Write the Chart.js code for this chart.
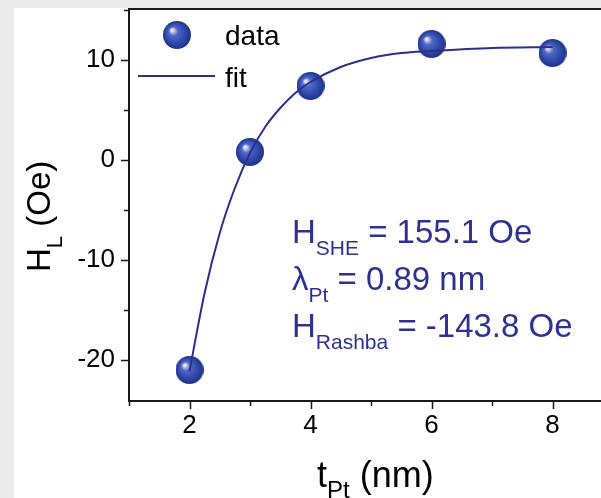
<!DOCTYPE html>
<html>
<head>
<meta charset="utf-8">
<script src="https://cdn.jsdelivr.net/npm/chart.js@4.4.1/dist/chart.umd.min.js"></script>
<style>
  html, body { margin: 0; padding: 0; background: #ebebeb; width: 601px; height: 498px; overflow: hidden; }
  #panel { position: absolute; left: 14px; top: 8px; width: 587px; height: 490px; background: #fff; overflow: hidden; }
  #chart { display: block; }
</style>
</head>
<body>
<div id="panel"><canvas id="chart" width="610" height="490"></canvas></div>
<script>
// measured points
const thickness = [2, 3, 4, 6, 8];
const fieldHL = [-21.0, 0.8, 7.4, 11.6, 10.7];

// fit curve
const fitThickness = [2, 2.25, 2.5, 2.75, 3, 3.25, 3.5, 3.75, 4, 4.5, 5, 5.5, 6, 7, 8];
const fitHL = [-21.1, -13.3, -7.3, -2.8, 0.7, 3.3, 5.2, 6.7, 7.8, 9.3, 10.2, 10.7, 10.9, 11.2, 11.3];

// axes
const xTicks = [1, 2, 3, 4, 5, 6, 7, 8, 9];
const xLabels = [2, 4, 6, 8];
const yTicks = [-20, -15, -10, -5, 0, 5, 10, 15];
const yLabels = [-20, -10, 0, 10];

const annotations = [
  { main: 'H', sub: 'SHE', rest: ' = 155.1 Oe' },
  { main: 'λ', sub: 'Pt', rest: ' = 0.89 nm' },
  { main: 'H', sub: 'Rashba', rest: ' = -143.8 Oe' }
];

const FONT = '"Liberation Sans", Arial, sans-serif';
const navy = '#2b2f8f';
const textBlue = '#2e3192';

// glossy sphere used as the point style
function makeSphere(r) {
  const c = document.createElement('canvas');
  c.width = c.height = r * 2;
  const g = c.getContext('2d');
  const grad = g.createRadialGradient(r * 0.62, r * 0.62, 0, r, r, r);
  grad.addColorStop(0, '#ffffff');
  grad.addColorStop(0.12, '#c9d1f0');
  grad.addColorStop(0.32, '#4f67c6');
  grad.addColorStop(0.75, '#2c46a6');
  grad.addColorStop(1, '#1d3189');
  g.fillStyle = grad;
  g.beginPath();
  g.arc(r, r, r, 0, Math.PI * 2);
  g.fill();
  return c;
}
const sphere = makeSphere(14);

function subText(ctx, x, y, main, sub, rest, size, subSize, drop) {
  ctx.font = size + 'px ' + FONT;
  ctx.fillText(main, x, y);
  x += ctx.measureText(main).width;
  ctx.font = subSize + 'px ' + FONT;
  ctx.fillText(sub, x, y + drop);
  x += ctx.measureText(sub).width;
  ctx.font = size + 'px ' + FONT;
  ctx.fillText(rest, x, y);
}

const framePlugin = {
  id: 'frame',
  afterDraw(chart) {
    const ctx = chart.ctx;
    const a = chart.chartArea;
    const xs = chart.scales.x, ys = chart.scales.y;
    ctx.save();
    ctx.strokeStyle = '#1a1a1a';
    ctx.lineWidth = 2;
    ctx.strokeRect(a.left, a.top, a.right - a.left, a.bottom - a.top);
    // ticks, outward
    ctx.lineWidth = 1.5;
    ctx.beginPath();
    xTicks.forEach(v => {
      const px = Math.round(xs.getPixelForValue(v)) + 0.5;
      const len = xLabels.includes(v) ? 8 : 5;
      ctx.moveTo(px, a.bottom);
      ctx.lineTo(px, a.bottom + len);
    });
    yTicks.forEach(v => {
      const py = Math.round(ys.getPixelForValue(v)) + 0.5;
      const len = yLabels.includes(v) ? 8 : 5;
      ctx.moveTo(a.left, py);
      ctx.lineTo(a.left - len, py);
    });
    ctx.stroke();

    // axis titles
    ctx.fillStyle = '#000';
    ctx.textBaseline = 'alphabetic';
    ctx.textAlign = 'left';
    subText(ctx, a.left + 188, a.bottom + 86, 't', 'Pt', ' (nm)', 36, 24, 11);
    ctx.save();
    ctx.translate(36, a.top + 263);
    ctx.rotate(-Math.PI / 2);
    subText(ctx, 0, 0, 'H', 'L', ' (Oe)', 33, 22, 12);
    ctx.restore();

    // legend
    ctx.drawImage(sphere, a.left + 34, a.top + 12, 28, 28);
    ctx.strokeStyle = navy;
    ctx.lineWidth = 2;
    ctx.beginPath();
    ctx.moveTo(a.left + 9, a.top + 67);
    ctx.lineTo(a.left + 86, a.top + 67);
    ctx.stroke();
    ctx.font = '28px ' + FONT;
    ctx.fillText('data', a.left + 96, a.top + 36);
    ctx.fillText('fit', a.left + 96, a.top + 78);

    // fit parameters
    ctx.fillStyle = textBlue;
    annotations.forEach((t, i) => {
      subText(ctx, a.left + 163, a.top + 234 + i * 47, t.main, t.sub, t.rest, 33, 21, 12);
    });
    ctx.restore();
  }
};

new Chart(document.getElementById('chart'), {
  type: 'scatter',
  data: {
    datasets: [
      {
        type: 'line',
        label: 'fit',
        data: fitThickness.map((t, i) => ({ x: t, y: fitHL[i] })),
        borderColor: navy,
        borderWidth: 2,
        pointRadius: 0,
        cubicInterpolationMode: 'monotone',
        fill: false,
        order: 0
      },
      {
        label: 'data',
        data: thickness.map((t, i) => ({ x: t, y: fieldHL[i] })),
        pointStyle: sphere,
        pointRadius: 14,
        order: 1
      }
    ]
  },
  options: {
    responsive: false,
    animation: false,
    events: [],
    layout: { autoPadding: false, padding: { top: 1, right: 11, left: 0, bottom: 0 } },
    plugins: { legend: { display: false }, tooltip: { enabled: false } },
    scales: {
      x: {
        type: 'linear',
        min: 1,
        max: 9,
        afterBuildTicks: s => { s.ticks = xTicks.map(v => ({ value: v })); },
        afterFit: s => { s.height = 97; s.paddingLeft = 0; s.paddingRight = 0; },
        grid: { display: false, drawTicks: false },
        border: { display: false },
        ticks: {
          autoSkip: false,
          maxRotation: 0,
          padding: 9,
          color: '#000',
          font: { family: FONT, size: 26 },
          callback: v => xLabels.includes(v) ? String(v) : ''
        }
      },
      y: {
        min: -24.1,
        max: 15.1,
        afterBuildTicks: s => { s.ticks = yTicks.map(v => ({ value: v })); },
        afterFit: s => { s.width = 115; s.paddingTop = 0; s.paddingBottom = 0; },
        grid: { display: false, drawTicks: false },
        border: { display: false },
        ticks: {
          padding: 14,
          color: '#000',
          font: { family: FONT, size: 26, lineHeight: 0.1 },
          callback: v => yLabels.includes(v) ? String(v) : ''
        }
      }
    }
  },
  plugins: [framePlugin]
});
</script>
</body>
</html>
